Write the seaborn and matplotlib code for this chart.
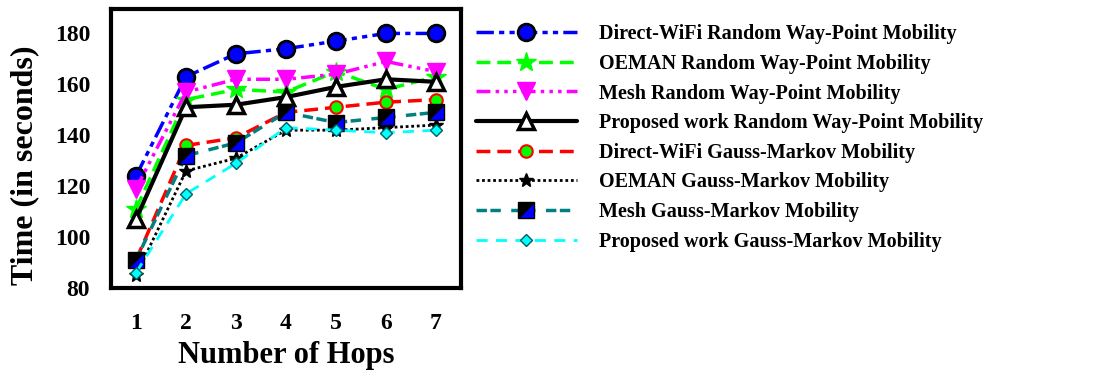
import matplotlib
matplotlib.use("Agg")
import matplotlib.pyplot as plt
import seaborn as sns
import pandas as pd
from matplotlib.markers import MarkerStyle
from matplotlib.transforms import Affine2D

hops = [1, 2, 3, 4, 5, 6, 7]
series_names = [
    "Direct-WiFi Random Way-Point Mobility",
    "OEMAN Random Way-Point Mobility",
    "Mesh Random Way-Point Mobility",
    "Proposed work Random Way-Point Mobility",
    "Direct-WiFi Gauss-Markov Mobility",
    "OEMAN Gauss-Markov Mobility",
    "Mesh Gauss-Markov Mobility",
    "Proposed work Gauss-Markov Mobility",
]
direct_rwp = [124, 163, 172, 174, 177, 180, 180]
oeman_rwp = [111, 154, 158, 157, 165, 158, 163]
mesh_rwp = [119, 157, 162, 162, 164, 169, 165]
proposed_rwp = [107, 151, 152, 155, 159, 162, 161]
direct_gm = [91, 136, 139, 149, 151, 153, 154]
oeman_gm = [85, 126, 131, 142, 142, 143, 144]
mesh_gm = [91, 132, 137, 149, 145, 147, 149]
proposed_gm = [86, 117, 129, 143, 142, 141, 142]
values = [direct_rwp, oeman_rwp, mesh_rwp, proposed_rwp,
          direct_gm, oeman_gm, mesh_gm, proposed_gm]

rows = []
for name, vals in zip(series_names, values):
    for h, v in zip(hops, vals):
        rows.append({"series": name, "hops": h, "time": v})
df = pd.DataFrame(rows)

sns.set_theme(style="white")
plt.rcParams["font.family"] = ["Liberation Serif", "DejaVu Serif"]
plt.rcParams["font.weight"] = "bold"
plt.rcParams["text.color"] = "black"
plt.rcParams["axes.labelcolor"] = "black"

split_sq = MarkerStyle("D", fillstyle="left",
                       transform=Affine2D().rotate_deg(-45))

styles = [
    dict(color="#0000ff", lw=2.5, dashes=(5, 1.5, 1.5, 1.5, 1.5, 1.5),
         marker="o", ms=12, mfc="#0000ff", mec="black", mew=2),
    dict(color="#00ff00", lw=2.5, dashes=(4, 2),
         marker="*", ms=15, mfc="#00ff00", mec="#00ff00", mew=1),
    dict(color="#ff00ff", lw=2.5, dashes=(4, 1.5, 1, 1.5, 1, 1.5, 1, 1.5),
         marker="v", ms=13, mfc="#ff00ff", mec="#ff00ff", mew=1),
    dict(color="black", lw=3, dashes=(None, None),
         marker="^", ms=11, mfc="white", mec="black", mew=2.5),
    dict(color="#ff0000", lw=2.5, dashes=(4, 2),
         marker="o", ms=9, mfc="#00ff00", mec="#ff0000", mew=1.5),
    dict(color="black", lw=2, dashes=(1, 1),
         marker="*", ms=10, mfc="black", mec="black", mew=1),
    dict(color="#008080", lw=2.5, dashes=(3, 1, 3, 3),
         marker=split_sq, ms=11, mfc="black", mfcalt="#0000ff", mec="black", mew=1),
    dict(color="#00ffff", lw=2, dashes=(4, 3),
         marker="D", ms=6, mfc="#00ffff", mec="#006060", mew=1),
]

fig = plt.figure(figsize=(11.04, 3.70), dpi=100)
ax = fig.add_axes([111 / 1104, 82 / 370, 350 / 1104, 279 / 370])

for name, st in zip(series_names, styles):
    sub = df[df["series"] == name]
    st = dict(st)
    color = st.pop("color")
    mfcalt = st.pop("mfcalt", None)
    kws = dict(color=color, linewidth=st["lw"], dashes=st["dashes"],
               marker=st["marker"], markersize=st["ms"],
               markerfacecolor=st["mfc"], markeredgecolor=st["mec"],
               markeredgewidth=st["mew"])
    if mfcalt is not None:
        kws["markerfacecoloralt"] = mfcalt
    sns.lineplot(data=sub, x="hops", y="time", ax=ax, legend=False,
                 errorbar=None, label=name, **kws)

ax.set_xlim(0.5, 7.5)
ax.set_ylim(80, 189.6)
ax.set_xticks(hops)
ax.set_yticks([80, 100, 120, 140, 160, 180])
ax.set_xlabel("Number of Hops", fontsize=22, fontweight="bold", labelpad=5,
              color="black")
ax.set_ylabel("Time (in seconds)", fontsize=23, fontweight="bold",
              color="black")
ax.yaxis.set_label_coords(-0.205, 0.44)
for s in ax.spines.values():
    s.set_linewidth(3)
    s.set_color("black")
ax.tick_params(axis="both", direction="out", length=5, width=2.5,
               labelsize=17, colors="black")
ax.tick_params(axis="x", pad=13)
ax.tick_params(axis="y", pad=10)
for lab in ax.get_xticklabels() + ax.get_yticklabels():
    lab.set_fontweight("bold")

handles = ax.get_lines()[:len(series_names)]
leg = fig.legend(handles, series_names, loc="center left",
                 bbox_to_anchor=(476 / 1104, (370 - 138) / 370),
                 frameon=False, handlelength=5, handletextpad=1.1,
                 labelspacing=0.48, borderpad=0, borderaxespad=0,
                 prop={"weight": "bold", "size": 14.5})
for t in leg.get_texts():
    t.set_color("black")

fig.savefig("out.png", dpi=100, facecolor="white")
